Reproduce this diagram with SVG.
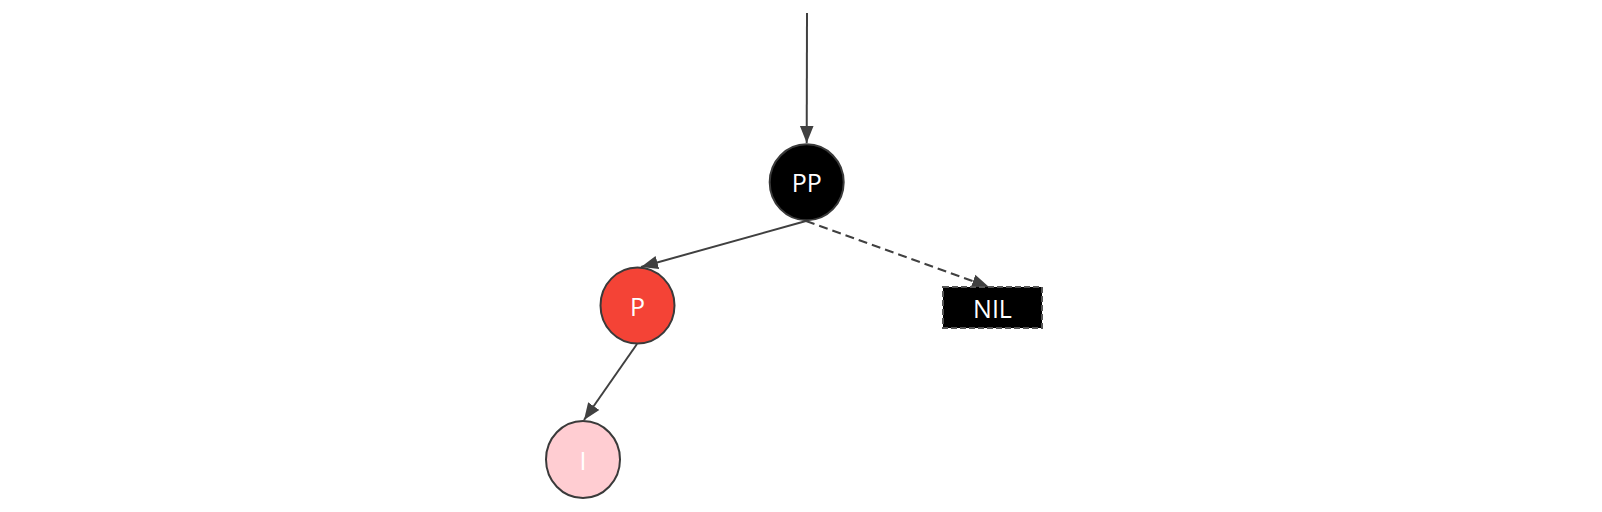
<svg xmlns="http://www.w3.org/2000/svg" width="1602" height="512" viewBox="0 0 1602 512">
<style>
.node{stroke:#3a3a3a;stroke-width:2}
.lbl{font-family:"Open Sans","Noto Sans",sans-serif;font-size:25px;fill:#ffffff;text-anchor:middle;dominant-baseline:central}
.edge{stroke:#404040;stroke-width:2;fill:none}
</style>
<defs>
<marker id="arrB" viewBox="0 0 10 10" refX="10" refY="5" markerWidth="17" markerHeight="17" markerUnits="userSpaceOnUse" orient="auto">
<path d="M0,1 L10,5 L0,9 z" fill="#404040"/>
</marker>
</defs>
<rect width="1602" height="512" fill="#ffffff"/>
<g id="connectors">
<line class="edge" x1="807" y1="13" x2="806.7" y2="143" marker-end="url(#arrB)"/>
<line class="edge" x1="806" y1="221" x2="641" y2="267" marker-end="url(#arrB)"/>
<line class="edge" x1="806" y1="221" x2="989" y2="287" stroke-dasharray="9,5" marker-end="url(#arrB)"/>
<line class="edge" x1="637" y1="344" x2="584" y2="420" marker-end="url(#arrB)"/>
</g>
<g id="node-PP">
<ellipse class="node" cx="806.7" cy="182.3" rx="37" ry="38" fill="#000000"/>
<text class="lbl" x="806.7" y="182.3">PP</text>
</g>
<g id="node-P">
<ellipse class="node" cx="637.5" cy="305.5" rx="37" ry="38" fill="#f44336"/>
<text class="lbl" x="637.5" y="305.5">P</text>
</g>
<g id="node-I">
<ellipse class="node" cx="583" cy="459.5" rx="37" ry="38.5" fill="#ffcdd2"/>
<text class="lbl" x="583" y="459.5">I</text>
</g>
<g id="node-NIL">
<rect x="943" y="287" width="99" height="41" fill="#000000" stroke="#555555" stroke-width="2" stroke-dasharray="6,3"/>
<text class="lbl" x="992.5" y="307.5">NIL</text>
</g>
</svg>
